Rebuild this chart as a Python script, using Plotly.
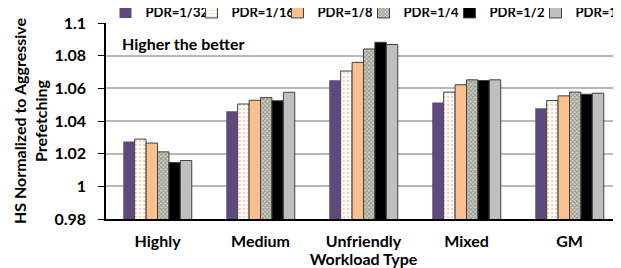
import plotly.graph_objects as go

categories = ["Highly", "Medium", "Unfriendly", "Mixed", "GM"]
series_names = ["PDR=1/32", "PDR=1/16", "PDR=1/8", "PDR=1/4", "PDR=1/2", "PDR=1"]
pdr_1_32 = [1.0275, 1.0459, 1.0650, 1.0513, 1.0478]
pdr_1_16 = [1.0289, 1.0504, 1.0706, 1.0577, 1.0525]
pdr_1_8 = [1.0265, 1.0527, 1.0759, 1.0622, 1.0554]
pdr_1_4 = [1.0211, 1.0543, 1.0841, 1.0652, 1.0577]
pdr_1_2 = [1.0146, 1.0524, 1.0882, 1.0648, 1.0564]
pdr_1 = [1.0158, 1.0576, 1.0868, 1.0652, 1.0570]
y_tickvals = [0.98, 1.0, 1.02, 1.04, 1.06, 1.08, 1.1]
y_ticktext = ["0.98", "1", "1.02", "1.04", "1.06", "1.08", "1.1"]

values = [pdr_1_32, pdr_1_16, pdr_1_8, pdr_1_4, pdr_1_2, pdr_1]

styles = [
    dict(color="#5F4A7D", line=dict(color="#5F4A7D", width=0)),
    dict(color="white", line=dict(color="#404040", width=1),
         pattern=dict(shape=".", fgcolor="#F4A57A", bgcolor="white", size=4, solidity=0.35)),
    dict(color="#FAC090", line=dict(color="#404040", width=1)),
    dict(color="#A0A090", line=dict(color="#404040", width=1),
         pattern=dict(shape="x", fgcolor="#5A5A50", bgcolor="#D0D0C4", size=3, solidity=0.5)),
    dict(color="black", line=dict(color="#404040", width=1)),
    dict(color="#BFBFBF", line=dict(color="#404040", width=1)),
]

font_family = "Lato, 'Liberation Sans', Arial, sans-serif"
FS = 16

fig = go.Figure()
for name, vals, st in zip(series_names, values, styles):
    fig.add_trace(go.Bar(x=categories, y=vals, name=name, marker=st))

OFF = 8
L_pg, T_pg, R_pg, B_pg = 106, 23, 621, 219
W, H = 621 - OFF, 268 - OFF
L = L_pg - OFF
T = T_pg - OFF
B = H - (B_pg - OFF)
R = W - (R_pg - OFF)
pw = R_pg - L_pg
ph = B_pg - T_pg

fig.update_layout(
    width=W, height=H,
    margin=dict(l=L, r=R, t=T, b=B, autoexpand=False),
    paper_bgcolor="white", plot_bgcolor="white",
    barmode="group", bargap=0.335, bargroupgap=0,
    font=dict(family=font_family, size=FS, color="black", weight="bold"),
    showlegend=True,
    legend=dict(
        x=-0.001, xanchor="left",
        y=1 + (T_pg - 12) / ph, yanchor="middle",
        orientation="h", bgcolor="rgba(0,0,0,0)", borderwidth=0,
        font=dict(family=font_family, size=13, color="black", weight="bold"),
        itemwidth=30, entrywidth=41, entrywidthmode="pixels",
        traceorder="normal",
    ),
)

fig.update_yaxes(
    range=[0.98, 1.1], tickvals=y_tickvals, ticktext=y_ticktext,
    showgrid=True, gridcolor="#B8B8B8", gridwidth=1.5,
    showline=True, linecolor="black", linewidth=1.5,
    ticks="outside", ticklen=6, tickcolor="black", tickwidth=1,
    ticklabelstandoff=9,
    tickfont=dict(family=font_family, size=FS, color="black", weight="bold"),
    title=dict(text="HS Normalized to Aggressive<br>Prefetching",
               font=dict(family=font_family, size=FS, color="black", weight="bold"),
               standoff=3),
    zeroline=False, automargin=False,
)
fig.update_xaxes(
    showline=True, linecolor="black", linewidth=1.5,
    ticks="", ticklabelstandoff=7,
    tickfont=dict(family=font_family, size=FS, color="black", weight="bold"),
    title=dict(text="Workload Type",
               font=dict(family=font_family, size=FS, color="black", weight="bold"),
               standoff=5),
    automargin=False,
)

fig.add_annotation(
    text="Higher the better", xref="paper", yref="paper",
    x=(120 - L_pg) / pw, xanchor="left", y=1 + (T_pg - 43) / ph, yanchor="middle",
    showarrow=False,
    font=dict(family=font_family, size=FS, color="black", weight="bold"),
)

fig.write_html("out.html")
